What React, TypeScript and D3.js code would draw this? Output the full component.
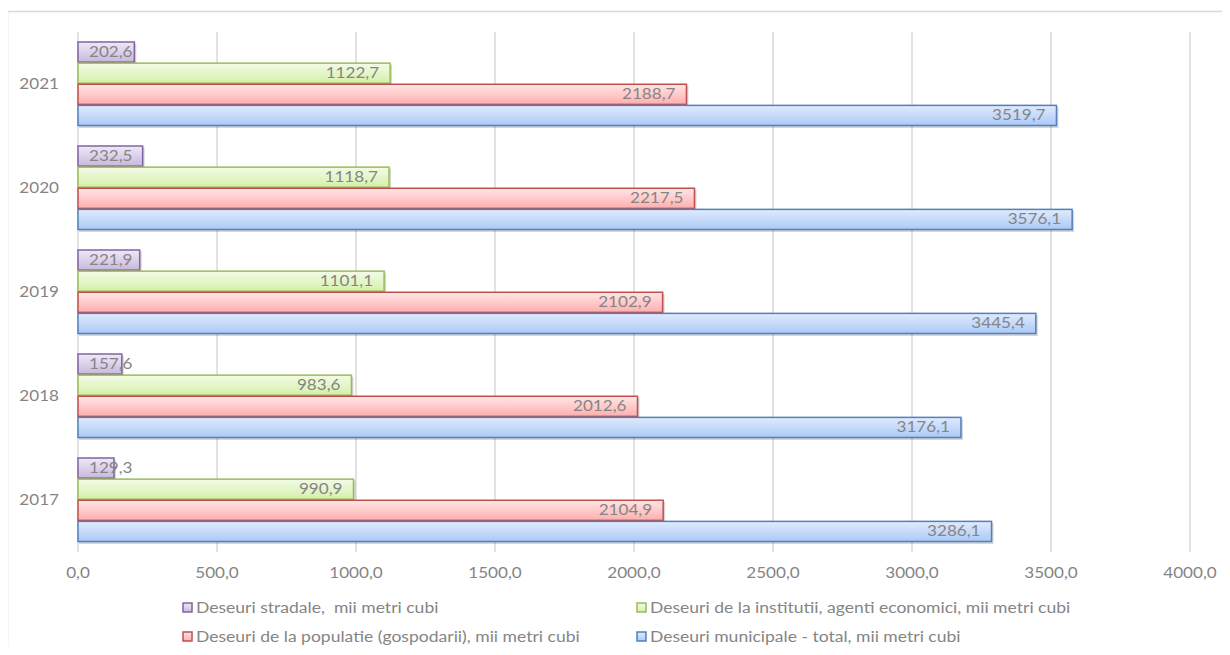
import React, { useEffect, useRef } from "react";
import * as d3 from "d3";

const years = ["2021", "2020", "2019", "2018", "2017"];
const seriesNames = [
  "Deseuri stradale,  mii metri cubi",
  "Deseuri de la institutii, agenti economici, mii metri cubi",
  "Deseuri de la populatie (gospodarii), mii metri cubi",
  "Deseuri municipale - total, mii metri cubi",
];
const stradale = [202.6, 232.5, 221.9, 157.6, 129.3];
const institutii = [1122.7, 1118.7, 1101.1, 983.6, 990.9];
const populatie = [2188.7, 2217.5, 2102.9, 2012.6, 2104.9];
const total = [3519.7, 3576.1, 3445.4, 3176.1, 3286.1];
const xTicks = [0, 500, 1000, 1500, 2000, 2500, 3000, 3500, 4000];

const seriesValues = [stradale, institutii, populatie, total];
const strokes = ["#8064a2", "#9bbb59", "#c0504d", "#4f81bd"];
const gradTop = ["#efe9f6", "#f3fce6", "#ffe6e6", "#e0ebfd"];
const gradBot = ["#c8b7dd", "#d5efac", "#ffaeae", "#abc9f7"];

const W = 1230;
const H = 655;
const FONT = "Lato, 'Open Sans', sans-serif";
const SX = 1.14;
const SXL = 1.17;
const TXT = "#858585";
const fmt = (v: number) => v.toFixed(1).replace(".", ",");

export default function App() {
  const ref = useRef<SVGSVGElement>(null);
  useEffect(() => {
    const svg = d3.select(ref.current);
    svg.selectAll("*").remove();

    const x = d3.scaleLinear().domain([0, 4000]).range([78, 1190]);
    const y = d3.scaleBand().domain(years).range([32, 552]).paddingInner(0).paddingOuter(0);
    const inner = d3
      .scaleBand()
      .domain(d3.range(4).map(String))
      .range([9.5, y.bandwidth() - 10]);

    const defs = svg.append("defs");
    strokes.forEach((_, i) => {
      const g = defs
        .append("linearGradient")
        .attr("id", "g" + i)
        .attr("x1", 0)
        .attr("y1", 0)
        .attr("x2", 0)
        .attr("y2", 1);
      g.append("stop").attr("offset", "0%").attr("stop-color", gradTop[i]);
      g.append("stop").attr("offset", "100%").attr("stop-color", gradBot[i]);
    });

    svg.append("rect").attr("width", W).attr("height", H).attr("fill", "#ffffff");
    svg
      .append("path")
      .attr("d", `M7.5,${H} V11.5 H${W}`)
      .attr("fill", "none")
      .attr("stroke", "#d9d9d9")
      .attr("stroke-width", 1.5);

    svg
      .append("g")
      .selectAll("line")
      .data(xTicks)
      .join("line")
      .attr("x1", (d) => x(d))
      .attr("x2", (d) => x(d))
      .attr("y1", 32)
      .attr("y2", 552)
      .attr("stroke", "#d9d9d9")
      .attr("stroke-width", 1.5);

    svg
      .append("g")
      .selectAll("text")
      .data(xTicks)
      .join("text")
      .attr("transform", (d) => `translate(${x(d)},578) scale(${SX},1)`)
      .attr("text-anchor", "middle")
      .attr("font-family", FONT)
      .attr("font-size", 15)
      .attr("fill", TXT)
      .text((d) => fmt(d));

    svg
      .append("g")
      .selectAll("text")
      .data(years)
      .join("text")
      .attr("transform", (d) => `translate(59,${y(d)! + y.bandwidth() / 2 + 5}) scale(${SX},1)`)
      .attr("text-anchor", "end")
      .attr("font-family", FONT)
      .attr("font-size", 15)
      .attr("fill", TXT)
      .text((d) => d);

    const bars = svg.append("g");
    seriesValues.forEach((vals, si) => {
      const gs = bars.append("g");
      const rows = vals.map((v, yi) => ({ v, year: years[yi] }));
      gs.selectAll("rect.sh")
        .data(rows)
        .join("rect")
        .attr("class", "sh")
        .attr("x", x(0) + 1)
        .attr("y", (d) => y(d.year)! + inner(String(si))! + 2)
        .attr("width", (d) => x(d.v) - x(0) + 1)
        .attr("height", inner.bandwidth())
        .attr("fill", "#000")
        .attr("opacity", 0.16);
      gs.selectAll("rect.bar")
        .data(rows)
        .join("rect")
        .attr("class", "bar")
        .attr("x", x(0))
        .attr("y", (d) => y(d.year)! + inner(String(si))! + 0.5)
        .attr("width", (d) => x(d.v) - x(0))
        .attr("height", inner.bandwidth() - 1)
        .attr("fill", `url(#g${si})`)
        .attr("stroke", strokes[si])
        .attr("stroke-width", 1.5);
    });
    seriesValues.forEach((vals, si) => {
      const rows = vals.map((v, yi) => ({ v, year: years[yi] }));
      svg
        .append("g")
        .selectAll("text")
        .data(rows)
        .join("text")
        .attr("transform", (d) => {
          const cy = y(d.year)! + inner(String(si))! + inner.bandwidth() / 2 + 5;
          const tx = si === 0 ? x(0) + 11 : x(d.v) - 11;
          return `translate(${tx},${cy}) scale(${SX},1)`;
        })
        .attr("text-anchor", si === 0 ? "start" : "end")
        .attr("font-family", FONT)
        .attr("font-size", 15)
        .attr("fill", TXT)
        .text((d) => fmt(d.v));
    });

    const legendPos = [
      [183, 608],
      [637, 608],
      [183, 637],
      [637, 637],
    ];
    const lg = svg.append("g");
    seriesNames.forEach((name, i) => {
      const [lx, ly] = legendPos[i];
      lg.append("rect")
        .attr("x", lx)
        .attr("y", ly - 5)
        .attr("width", 9)
        .attr("height", 9)
        .attr("fill", `url(#g${i})`)
        .attr("stroke", strokes[i])
        .attr("stroke-width", 1.5);
      lg.append("text")
        .attr("transform", `translate(${lx + 13},${ly + 5}) scale(${SXL},1)`)
        .attr("font-family", FONT)
        .attr("font-size", 15)
        .attr("fill", TXT)
        .style("white-space", "pre")
        .text(name);
    });
  }, []);
  return <svg ref={ref} width={W} height={H} style={{ display: "block", margin: "-8px" }} />;
}
